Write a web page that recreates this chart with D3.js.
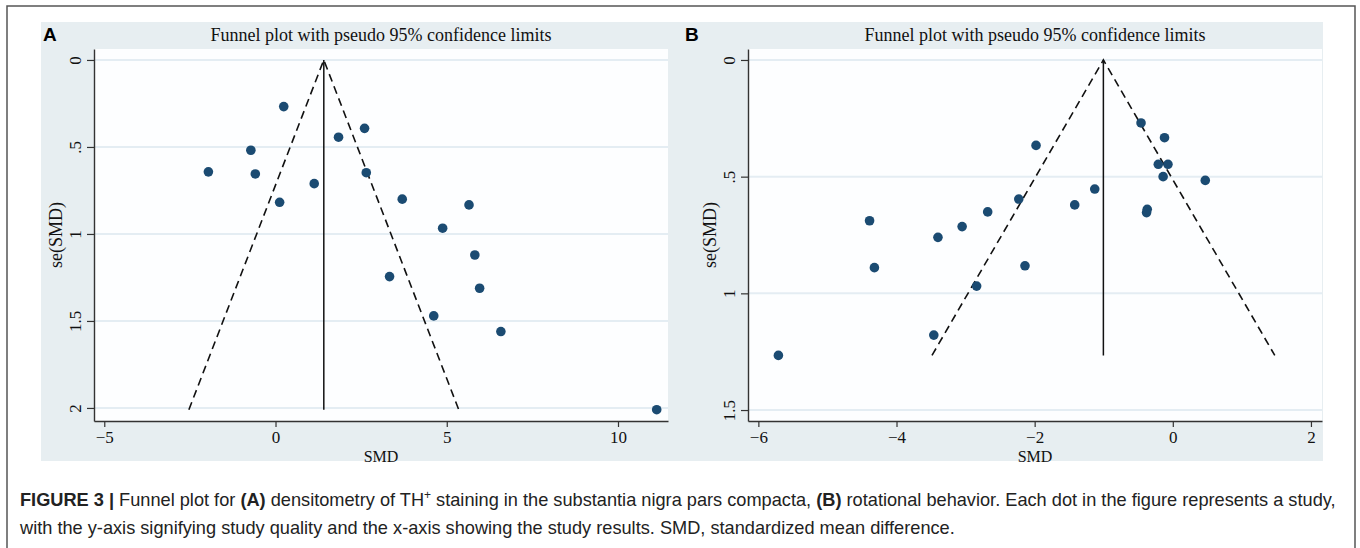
<!DOCTYPE html>
<html>
<head>
<meta charset="utf-8">
<script src="https://cdn.jsdelivr.net/npm/d3@7"></script>
<style>
  body { margin: 0; background: #fff; }
  svg { display: block; }
</style>
</head>
<body>
<script>
// panel A: densitometry of TH+ staining
var aSmd = [0.24, 2.60, 1.84, -0.72, -1.96, -0.59, 1.13, 2.65, 0.12, 3.70, 5.65, 4.88, 5.82, 3.33, 5.96, 4.62, 6.58, 11.13];
var aSe  = [0.268, 0.393, 0.444, 0.519, 0.643, 0.655, 0.711, 0.648, 0.818, 0.800, 0.833, 0.967, 1.121, 1.245, 1.312, 1.471, 1.561, 2.01];
var aPooled = 1.41;
var aXTicks = [-5, 0, 5, 10];
var aYTicks = [0, 0.5, 1, 1.5, 2];

// panel B: rotational behavior
var bSmd = [-0.46, -0.12, -1.98, -0.21, -0.07, -0.14, 0.47, -1.13, -2.23, -1.42, -0.37, -0.38, -2.68, -4.39, -3.05, -3.40, -2.14, -4.32, -2.84, -3.46, -5.71];
var bSe  = [0.270, 0.333, 0.366, 0.447, 0.447, 0.500, 0.516, 0.553, 0.596, 0.621, 0.640, 0.654, 0.651, 0.689, 0.714, 0.760, 0.882, 0.890, 0.969, 1.179, 1.266];
var bPooled = -1.005;
var bXTicks = [-6, -4, -2, 0, 2];
var bYTicks = [0, 0.5, 1, 1.5];

var title = 'Funnel plot with pseudo 95% confidence limits';

var svg = d3.select('body').append('svg')
  .attr('width', 1360)
  .attr('height', 548);

svg.append('rect')
  .attr('x', 7).attr('y', 6)
  .attr('width', 1348).attr('height', 560)
  .style('fill', '#fff')
  .style('stroke', '#555')
  .style('stroke-width', 1.5);

svg.append('rect')
  .attr('x', 41).attr('y', 22)
  .attr('width', 1282).attr('height', 439)
  .style('fill', '#e7eef1');

var serif = '"Liberation Serif", "Times New Roman", serif';
var sans = '"Liberation Sans", Arial, sans-serif';

var yFormat = function(d) {
  return d === 0 ? '0' : String(d).replace(/^0\./, '.');
};

var drawPanel = function(opts) {
  var left = opts.left, right = opts.right, top = 49, bottom = 421;
  var x = d3.scaleLinear().domain(opts.xDomain).range([left, right]);
  var y = d3.scaleLinear().domain(opts.yDomain).range([top, bottom]);
  var g = svg.append('g');

  g.append('rect')
    .attr('x', left).attr('y', top)
    .attr('width', right - left).attr('height', bottom - top)
    .style('fill', '#fdfeff');

  g.append('text')
    .attr('x', opts.letterX).attr('y', 41)
    .style('font-family', sans)
    .style('font-weight', 'bold')
    .style('font-size', '19px')
    .text(opts.letter);

  g.append('text')
    .attr('x', (left + right) / 2).attr('y', 41)
    .attr('text-anchor', 'middle')
    .style('font-family', serif)
    .style('font-size', '18px')
    .style('fill', '#111')
    .text(title);

  // gridlines
  g.selectAll('line.grid')
    .data(opts.yTicks)
    .enter().append('line')
    .attr('class', 'grid')
    .attr('x1', left).attr('x2', right)
    .attr('y1', function(d) { return y(d); })
    .attr('y2', function(d) { return y(d); })
    .style('stroke', '#e4edf3')
    .style('stroke-width', 2);

  // funnel
  var maxSe = d3.max(opts.se);
  var funnel = [
    [opts.pooled - 1.96 * maxSe, maxSe],
    [opts.pooled, 0],
    [opts.pooled + 1.96 * maxSe, maxSe]
  ];
  g.append('path')
    .attr('d', d3.line().x(function(d) { return x(d[0]); }).y(function(d) { return y(d[1]); })(funnel))
    .style('fill', 'none')
    .style('stroke', '#111')
    .style('stroke-width', 1.6)
    .style('stroke-dasharray', '8,5');
  g.append('line')
    .attr('x1', x(opts.pooled)).attr('x2', x(opts.pooled))
    .attr('y1', y(0)).attr('y2', y(maxSe))
    .style('stroke', '#111')
    .style('stroke-width', 1.5);

  // points
  g.selectAll('circle')
    .data(opts.smd)
    .enter().append('circle')
    .attr('cx', function(d) { return x(d); })
    .attr('cy', function(d, i) { return y(opts.se[i]); })
    .attr('r', 4.8)
    .style('fill', '#1b4b72');

  // axes
  var xAxis = g.append('g')
    .attr('transform', 'translate(0,' + bottom + ')')
    .call(d3.axisBottom(x).tickValues(opts.xTicks).tickSize(6).tickSizeOuter(0).tickPadding(4));
  var yAxis = g.append('g')
    .attr('transform', 'translate(' + left + ',0)')
    .call(d3.axisLeft(y).tickValues(opts.yTicks).tickFormat(yFormat).tickSize(7).tickSizeOuter(0));

  [xAxis, yAxis].forEach(function(ax) {
    ax.select('.domain').style('stroke', '#333').style('stroke-width', 1.4);
    ax.selectAll('.tick line').style('stroke', '#333').style('stroke-width', 1.2);
    ax.selectAll('text')
      .style('font-family', serif)
      .style('font-size', '17px')
      .style('fill', '#111');
  });
  yAxis.selectAll('.tick text')
    .attr('text-anchor', 'middle')
    .attr('dy', 0)
    .attr('x', 0)
    .attr('y', 0)
    .attr('transform', 'translate(-13,0) rotate(-90)');

  g.append('text')
    .attr('x', (left + right) / 2).attr('y', 462)
    .attr('text-anchor', 'middle')
    .style('font-family', serif)
    .style('font-size', '16px')
    .style('fill', '#111')
    .text('SMD');

  g.append('text')
    .attr('transform', 'translate(' + (left - 32) + ',' + ((top + bottom) / 2) + ') rotate(-90)')
    .attr('text-anchor', 'middle')
    .style('font-family', serif)
    .style('font-size', '18px')
    .style('fill', '#111')
    .text('se(SMD)');
};

drawPanel({
  letter: 'A', letterX: 43,
  left: 94, right: 668,
  xDomain: [-5.30, 11.46], yDomain: [-0.063, 2.075],
  xTicks: aXTicks, yTicks: aYTicks,
  smd: aSmd, se: aSe, pooled: aPooled
});

drawPanel({
  letter: 'B', letterX: 685,
  left: 748, right: 1322,
  xDomain: [-6.15, 2.16], yDomain: [-0.047, 1.547],
  xTicks: bXTicks, yTicks: bYTicks,
  smd: bSmd, se: bSe, pooled: bPooled
});

// caption
var caption = svg.append('g')
  .style('font-family', sans)
  .style('font-size', '18.2px')
  .style('fill', '#222');

var line1 = caption.append('text').attr('x', 20).attr('y', 506);
line1.append('tspan').style('font-weight', 'bold').text('FIGURE 3 | ');
line1.append('tspan').text('Funnel plot for ');
line1.append('tspan').style('font-weight', 'bold').text('(A)');
line1.append('tspan').text(' densitometry of TH');
line1.append('tspan').attr('dy', -7).style('font-size', '12px').text('+');
line1.append('tspan').attr('dy', 7).text(' staining in the substantia nigra pars compacta, ');
line1.append('tspan').style('font-weight', 'bold').text('(B)');
line1.append('tspan').text(' rotational behavior. Each dot in the figure represents a study,');

caption.append('text').attr('x', 20).attr('y', 534)
  .text('with the y-axis signifying study quality and the x-axis showing the study results. SMD, standardized mean difference.');
</script>
</body>
</html>
